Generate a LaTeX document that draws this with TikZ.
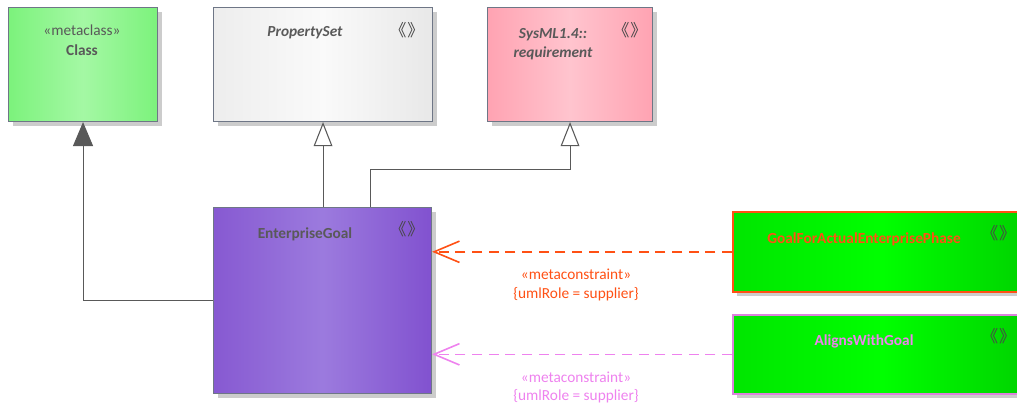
\documentclass[tikz,border=0pt]{standalone}
\usepackage{fontspec}
\setmainfont{Carlito}
\newfontfamily\cjkfont{Noto Sans CJK SC}
\usetikzlibrary{arrows.meta, calc, shadows}

\definecolor{boxline}{RGB}{110,118,134}
\definecolor{titlegray}{RGB}{89,89,89}
\definecolor{roleorange}{RGB}{255,80,20}
\definecolor{roleviolet}{RGB}{238,130,238}
\definecolor{reqpink}{RGB}{255,163,178}
\definecolor{reqlight}{RGB}{255,196,206}
\definecolor{classgreen}{RGB}{124,242,124}
\definecolor{classlight}{RGB}{164,248,164}

\begin{document}
\begin{tikzpicture}[x=0.75pt, y=-0.75pt,
  box/.style={draw=boxline, line width=0.8pt, anchor=north west, inner sep=0pt,
    drop shadow={shadow xshift=3.5pt, shadow yshift=-3.5pt, fill=black!20, opacity=1}},
  title/.style={text=titlegray, font=\fontsize{11.5}{14}\selectfont\bfseries},
  plain/.style={text=titlegray, font=\fontsize{11.5}{14}\selectfont},
  ster/.style={text=titlegray!80!black, inner sep=0pt, font=\cjkfont\fontsize{12.5}{14}\selectfont},
  gen/.style={draw=titlegray, line width=0.8pt,
    -{Triangle[open, fill=white, length=18pt, width=14pt]}},
  ext/.style={draw=titlegray, line width=0.8pt,
    -{Triangle[length=18pt, width=15pt]}},
  dep/.style={dashed, dash pattern=on 7.5pt off 5pt, line width=1.2pt,
    -{Straight Barb[length=19pt, width=16pt]}},
  role/.style={align=center, font=\fontsize{11.5}{14}\selectfont}]
  \useasboundingbox (0,0) rectangle (1017,403);

  % metaclass and generals
  \node[box, minimum width=111.75pt, minimum height=85.5pt,
    left color=classgreen, right color=classgreen, middle color=classlight]
    (class) at (8,7) {};
  \node[plain] (classster) at (82,30) {«metaclass»};
  \node[title] (classname) at (82,50) {Class};

  \node[box, minimum width=164.25pt, minimum height=85.5pt,
    left color=black!7, right color=black!9, middle color=black!2]
    (propset) at (213,7) {};
  \node[title, font=\fontsize{11.5}{14}\selectfont\bfseries\itshape] (propname) at (305,33) {PropertySet};
  \node[ster] (propster) at (407,30) {《\kern0.05em》};

  \node[box, minimum width=123.75pt, minimum height=85.5pt,
    left color=reqpink, right color=reqpink, middle color=reqlight]
    (req) at (487,7) {};
  \node[title, font=\fontsize{11.5}{14}\selectfont\bfseries\itshape, align=center]
    (reqname) at (553,44) {SysML1.4::\\requirement};
  \node[ster] (reqster) at (630,30) {《\kern0.05em》};

  % the stereotype itself
  \node[box, minimum width=163.5pt, minimum height=139.5pt,
    left color=violet!55!blue!65!white, right color=violet!55!blue!68!white,
    middle color=violet!50!blue!52!white]
    (entgoal) at (213,207) {};
  \node[title] (entname) at (305,234) {EnterpriseGoal};
  \node[ster] (entster) at (407,229) {《\kern0.05em》};

  % constraining stereotypes
  \node[box, draw=roleorange, line width=1.2pt, minimum width=225pt, minimum height=60pt,
    left color=green!90!black, right color=green!82!black, middle color=green]
    (gfaep) at (732,211) {};
  \node[title, text=roleorange] (gfaepname) at (864,239) {GoalForActualEnterprisePhase};
  \node[ster, anchor=east] (gfaepster) at (1016,233) {《\kern0.05em》};

  \node[box, draw=roleviolet!85!gray, line width=1.2pt, minimum width=225pt, minimum height=59.25pt,
    left color=green!90!black, right color=green!82!black, middle color=green]
    (aligns) at (732,314) {};
  \node[title, text=roleviolet] (alignsname) at (864,341) {AlignsWithGoal};
  \node[ster, anchor=east] (alignsster) at (1016,336) {《\kern0.05em》};

  % extension and generalizations
  \draw[ext] (entgoal.west) -| (class.south);
  \draw[gen] (entgoal.north -| propset.south) -- (propset.south);
  \draw[gen] ($(entgoal.north west)!0.717!(entgoal.north east)$)
    |- ($(req.south)+(0,47)$) -- (req.south);

  % metaconstraints
  \draw[dep, draw=roleorange] (gfaep.west) -- (gfaep.west -| entgoal.east)
    node[role, text=roleorange, pos=0.52, below=9pt] (gfaeprole)
    {«metaconstraint»\\\{umlRole = supplier\}};
  \draw[dep, draw=roleviolet] (aligns.west) -- (aligns.west -| entgoal.east)
    node[role, text=roleviolet, pos=0.52, below=9pt] (alignsrole)
    {«metaconstraint»\\\{umlRole = supplier\}};
\end{tikzpicture}
\end{document}
